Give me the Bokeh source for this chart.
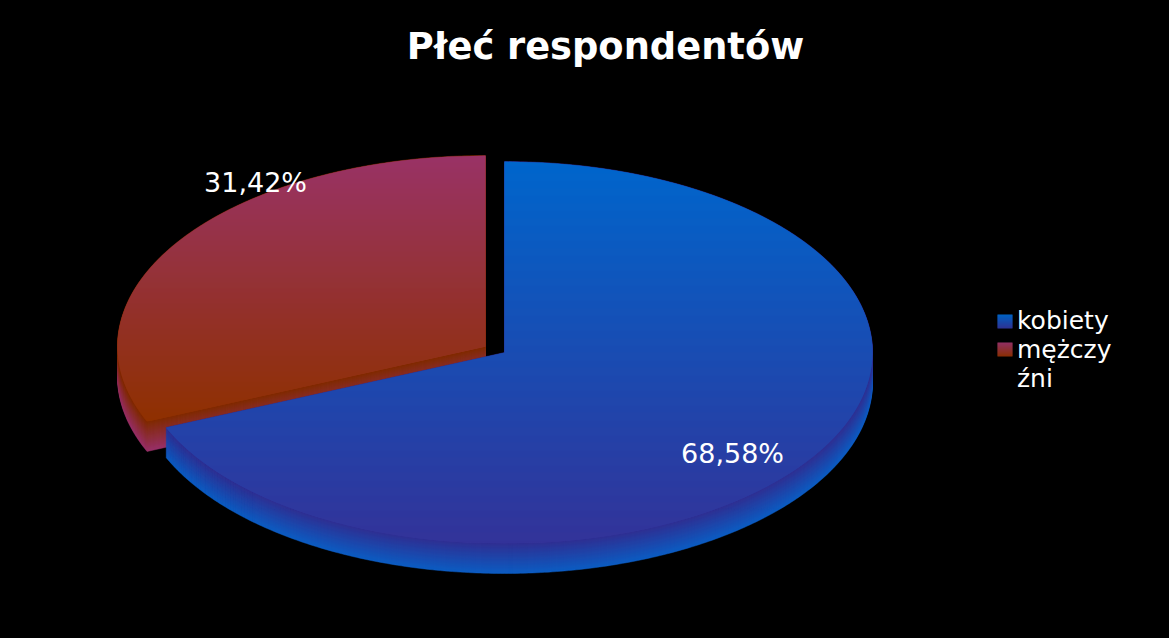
import math
from bokeh.plotting import figure
from bokeh.models import GlobalInlineStyleSheet
from bokeh.core.properties import value
from bokeh.embed import file_html
from bokeh.resources import INLINE

title = "Płeć respondentów"
categories = ["kobiety", "mężczyźni"]
legend_lines = ["kobiety", "mężczy", "źni"]
shares = [68.58, 31.42]
share_labels = ["68,58%", "31,42%"]

FONT = "DejaVu Sans"
BLUE_TOP, BLUE_BOT = "#0066cc", "#333399"
RED_TOP, RED_BOT = "#993366", "#8f3000"
BLUE_S0, BLUE_S1 = "#2f2f92", "#0c5cc2"
RED_S0, RED_S1 = "#802b00", "#983068"

RX, RY, DEPTH = 368.0, 191.0, 30
CENTERS = [(504.0, 352.0), (485.0, 346.0)]


def rgb(c):
    return [int(c[i:i + 2], 16) for i in (1, 3, 5)]


def mix(a, b, t):
    t = max(0.0, min(1.0, t))
    return "#%02x%02x%02x" % tuple(round(u + (v - u) * t) for u, v in zip(rgb(a), rgb(b)))


def outline(center, a0, a1):
    cx, cy = center
    n = max(2, int(abs(a1 - a0) * 1.6))
    pts = [(cx, cy)]
    for i in range(n + 1):
        a = math.radians(a0 + (a1 - a0) * i / n)
        pts.append((cx + RX * math.sin(a), cy - RY * math.cos(a)))
    return pts


def extent(pts, y):
    xs = []
    for (x0, y0), (x1, y1) in zip(pts, pts[1:] + pts[:1]):
        if (y0 <= y < y1) or (y1 <= y < y0):
            xs.append(x0 + (y - y0) * (x1 - x0) / (y1 - y0))
    return (min(xs), max(xs)) if xs else None


p = figure(width=1153, height=622, x_range=(0, 1153), y_range=(622, 0),
           output_backend="svg", toolbar_location=None, min_border=0,
           background_fill_color="#000000", border_fill_color="#000000",
           outline_line_color=None)
p.axis.visible = False
p.grid.visible = False
p.stylesheets = [GlobalInlineStyleSheet(css="html,body{background:#000000;}")]


def draw_sides(pts, c0, c1):
    xs, ys, cols = [], [], []
    for k in range(DEPTH, -1, -1):
        xs.append([q[0] for q in pts])
        ys.append([q[1] + k for q in pts])
        cols.append(mix(c0, c1, k / DEPTH))
    p.patches(xs, ys, fill_color=cols, line_color=cols, line_width=0.5)


def draw_face(pts, c0, c1):
    ylo = min(q[1] for q in pts)
    yhi = max(q[1] for q in pts)
    xs, ys, cols = [], [], []
    y = math.floor(ylo)
    while y < yhi:
        a, b = max(y, ylo) + 1e-3, min(y + 1.0, yhi) - 1e-3
        ea, eb = extent(pts, a), extent(pts, b)
        if ea and eb:
            bot = min(b + 0.4, yhi)
            xs.append([ea[0], ea[1], eb[1], eb[0]])
            ys.append([a, a, bot, bot])
            cols.append(mix(c0, c1, (y - ylo) / (yhi - ylo)))
        y += 1
    p.patches(xs, ys, fill_color=cols, line_color=None)


angle = shares[0] / sum(shares) * 360.0
blue = outline(CENTERS[0], 0.0, angle)
red = outline(CENTERS[1], angle, 360.0)

draw_sides(red, RED_S0, RED_S1)
draw_face(red, RED_TOP, RED_BOT)
draw_sides(blue, BLUE_S0, BLUE_S1)
draw_face(blue, BLUE_TOP, BLUE_BOT)

for (y0, c0, c1) in [(314, BLUE_TOP, BLUE_BOT), (342, RED_TOP, RED_BOT)]:
    draw_face([(997, y0), (1012, y0), (1012, y0 + 14), (997, y0 + 14)], c0, c1)

p.text(x=[605], y=[46], text=[title], text_color="#ffffff", text_align="center",
       text_baseline="middle", text_font=value(FONT), text_font_style="bold",
       text_font_size="36.8px")
p.text(x=[732, 255], y=[452.5, 181.5], text=share_labels, text_color="#ffffff",
       text_align="center", text_baseline="middle", text_font=value(FONT),
       text_font_size="27px")
p.text(x=[1016.5, 1016.5, 1016.5], y=[320, 348.5, 377.5], text=legend_lines, text_color="#ffffff",
       text_align="left", text_baseline="middle", text_font=value(FONT),
       text_font_size="25px")

open("out.html", "w").write(file_html(p, INLINE))
